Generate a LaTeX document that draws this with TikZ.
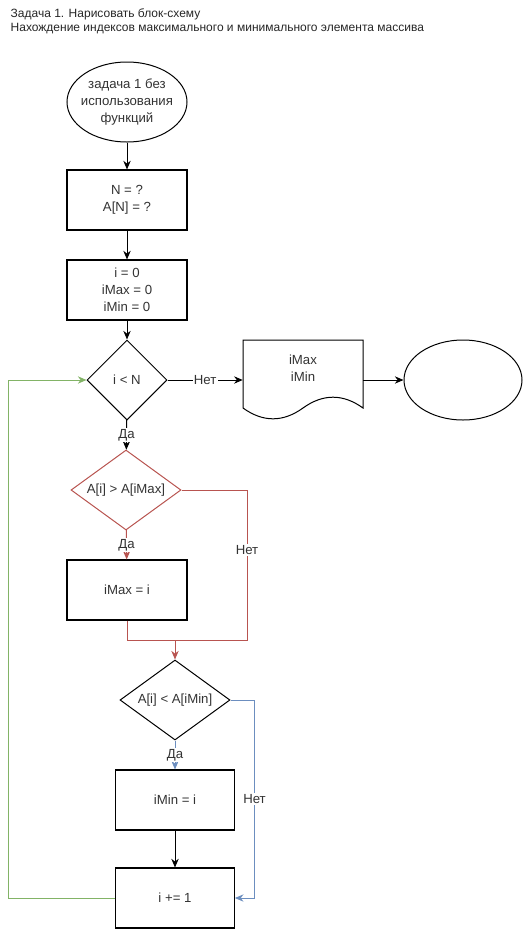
\documentclass[tikz,border=0pt]{standalone}
\usepackage{fontspec}
\setmainfont{Liberation Sans}
\usepackage{xcolor}
\usepackage{tikz}
\usetikzlibrary{positioning,arrows.meta,shapes.geometric}

\definecolor{drRed}{HTML}{B85450}
\definecolor{drBlue}{HTML}{6C8EBF}
\definecolor{drGreen}{HTML}{82B366}

\begin{document}
\begin{tikzpicture}[
  x=0.75pt, y=-0.75pt,
  every node/.style={font=\fontsize{9.9}{12.75}\selectfont, text=black!80},
  box/.style={draw=black, rectangle, line width=0.8pt, minimum width=90pt, minimum height=45pt, align=center, inner sep=0pt},
  term/.style={draw=black, ellipse, line width=0.75pt, minimum width=90pt, minimum height=60pt, align=center, inner sep=0pt},
  cond/.style={draw=black, diamond, line width=0.75pt, minimum width=82.5pt, minimum height=60pt, shape aspect=1.375, inner sep=0pt},
  lbl/.style={fill=white, inner sep=1pt},
  arr/.style={-{Stealth[length=6.5pt,width=5.5pt]}, line width=0.75pt},
  redline/.style={draw=drRed, line width=0.75pt},
  blueline/.style={draw=drBlue, line width=0.75pt},
  greenline/.style={draw=drGreen, line width=0.75pt}
]
\useasboundingbox (0,0) rectangle (531,929);

% Title
\node[anchor=west, align=left, font=\fontsize{9}{10.5}\selectfont, text=black!85] (title) at (6,21)
  {Задача 1. Нарисовать блок-схему\\Нахождение индексов максимального и минимального элемента массива};

% Main column
\node[term, inner xsep=-12pt, inner ysep=-6pt] (start) at (127,102) {задача 1 без\\использования\\функций};
\node[box] (input) at (127,200) {N = ?\\A[N] = ?};
\node[box] (init) at (127,290) {i = 0\\iMax = 0\\iMin = 0};
\node[cond, minimum width=60pt, shape aspect=1] (loop) at (127,380) {i < N};

% Output and end
\node[minimum width=90pt, minimum height=60pt, inner sep=0pt] (doc) at (303,380) {};
\draw[line width=0.75pt, shift={(doc.center)}] (-60,-40) -- (60,-40) -- (60,28)
  .. controls (40,13.6) and (20,13.6) .. (0,28)
  .. controls (-20,42.4) and (-40,42.4) .. (-60,28) -- cycle;
\node[align=center] (doctext) at (303,368) {iMax\\iMin};
\node[term, minimum width=88.5pt] (stop) at (463,380) {};

% Max branch
\node[cond, draw=drRed] (cmax) at (126,490) {A[i] > A[iMax]};
\node[box] (setmax) at (127,590) {iMax = i};
\coordinate (rj) at (175,640);
\coordinate (rno) at (247,640);

% Min branch
\node[cond] (cmin) at (175,700) {A[i] < A[iMin]};
\node[box, minimum width=89pt] (setmin) at (175,800) {iMin = i};
\node[box, minimum width=89pt] (step1) at (175,898) {i += 1};

% Arrows
\draw[arr] (start) -- (input);
\draw[arr] (input) -- (init);
\draw[arr] (init) -- (loop);
\draw[arr] (loop) -- node[lbl] {Нет} (doc.west);
\draw[arr] (doc.east) -- (stop);
\draw[arr] (loop) -- node[lbl] {Да} (cmax);

\draw[redline, arr, draw=drRed] (cmax) -- node[lbl] {Да} (setmax);
\draw[redline] (cmax.east) -| node[lbl, pos=0.7] {Нет} (rno) -- (rj);
\draw[redline] (setmax.south) |- (rj);
\draw[redline, arr, draw=drRed] (rj) -- (cmin.north);

\draw[blueline, arr, draw=drBlue] (cmin) -- node[lbl] {Да} (setmin);
\draw[blueline, arr, draw=drBlue] (cmin.east) -- ++(24,0) |- node[lbl, pos=0.25] {Нет} (step1.east);

\draw[arr] (setmin) -- (step1);
\draw[greenline, arr, draw=drGreen] (step1.west) -- ++(-107,0) |- (loop.west);

\end{tikzpicture}
\end{document}
